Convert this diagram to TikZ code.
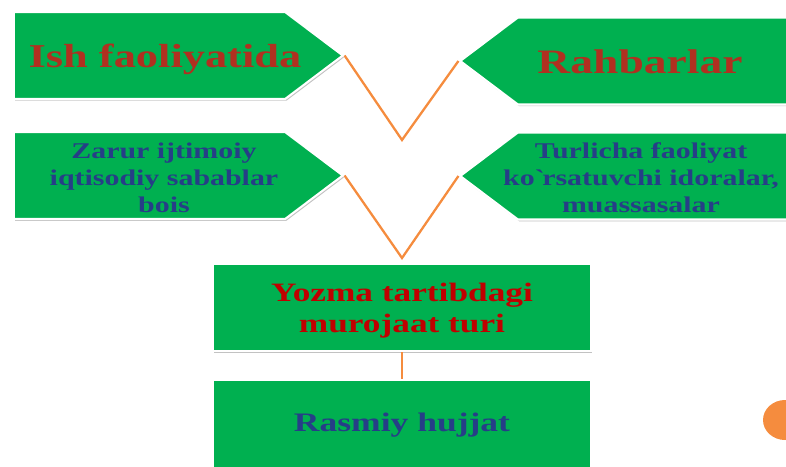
\documentclass[tikz,border=0pt]{standalone}
\usepackage{fontspec}
\usetikzlibrary{shapes.symbols,shadows}
\newfontfamily\boxfont[FakeStretch=1.33]{Liberation Serif}
\definecolor{boxgreen}{RGB}{0,176,80}
\definecolor{toptext}{RGB}{176,48,32}
\definecolor{redtext}{RGB}{192,0,0}
\definecolor{bluetext}{RGB}{38,62,135}
\definecolor{linkorange}{RGB}{245,140,62}
% text block moved sideways by half of #2 and down by #1 inside its box
\newcommand\nudge[3][0.09cm]{\makebox[0pt]{\hspace*{#2}\raisebox{-#1}[\height][\depth]{\begin{tabular}{@{}c@{}}#3\end{tabular}}}}
\begin{document}
\begin{tikzpicture}[x=0.02cm,y=-0.02cm]
 % styles for the boxes and the links
 \tikzset{box/.style={fill=boxgreen, draw=white, line width=1.2pt, inner sep=0pt, align=center,
   font=\boxfont\bfseries, drop shadow={shadow xshift=0.7pt, shadow yshift=-1pt, fill=black!40, opacity=0.6}},
   arrowbox/.style={box, shape=signal, signal from=nowhere, signal to=#1, signal pointer angle=74,
   minimum width=6.58cm, minimum height=1.74cm},
   link/.style={draw=linkorange, line width=1.3pt}}

 \clip (0,0) rectangle (786,466);
 \useasboundingbox (0,0) rectangle (786,466);

 %first row of arrow boxes
 \node[arrowbox=east, text=toptext, font=\boxfont\bfseries\fontsize{19}{22}\selectfont] (ish) at (149.5,55.5)
   {\nudge{0.62cm}{Ish faoliyatida}};
 \node[arrowbox=west, text=toptext, font=\boxfont\bfseries\fontsize{19.5}{22}\selectfont] (rahbar) at (653.5,61)
   {\nudge{-0.54cm}{Rahbarlar}};

 %second row of arrow boxes
 \node[arrowbox=east, text=bluetext, font=\boxfont\bfseries\fontsize{12.8}{15.4}\selectfont] (zarur) at (149.5,175.5)
   {\nudge{0.58cm}{Zarur ijtimoiy\\iqtisodiy sabablar\\bois}};
 \node[arrowbox=west, text=bluetext, font=\boxfont\bfseries\fontsize{12.8}{15.4}\selectfont] (turli) at (653.5,176)
   {\nudge{-0.5cm}{Turlicha faoliyat\\ko\textasciigrave rsatuvchi idoralar,\\muassasalar}};

 %rectangular boxes in the middle
 \node[box, minimum width=7.56cm, minimum height=1.74cm, text=redtext, font=\boxfont\bfseries\fontsize{15.1}{17.6}\selectfont]
   (yozma) at (402,307.5) {\nudge[0.06cm]{0pt}{Yozma tartibdagi\\murojaat turi}};
 \node[box, minimum width=7.56cm, minimum height=1.8cm, text=bluetext, font=\boxfont\bfseries\fontsize{15.2}{18}\selectfont]
   (rasmiy) at (402,425) {Rasmiy hujjat};

 %links between the boxes
 \coordinate (v1) at (402,140);
 \coordinate (v2) at (402,258);
 \draw[link] (ish.east) -- (v1) -- (rahbar.west);
 \draw[link] (zarur.east) -- (v2) -- (turli.west);
 \draw[link] (yozma.south) -- (rasmiy.north);

 %orange dot at the edge
 \fill[linkorange] (785,420) circle [x radius=22, y radius=20];
\end{tikzpicture}
\end{document}
